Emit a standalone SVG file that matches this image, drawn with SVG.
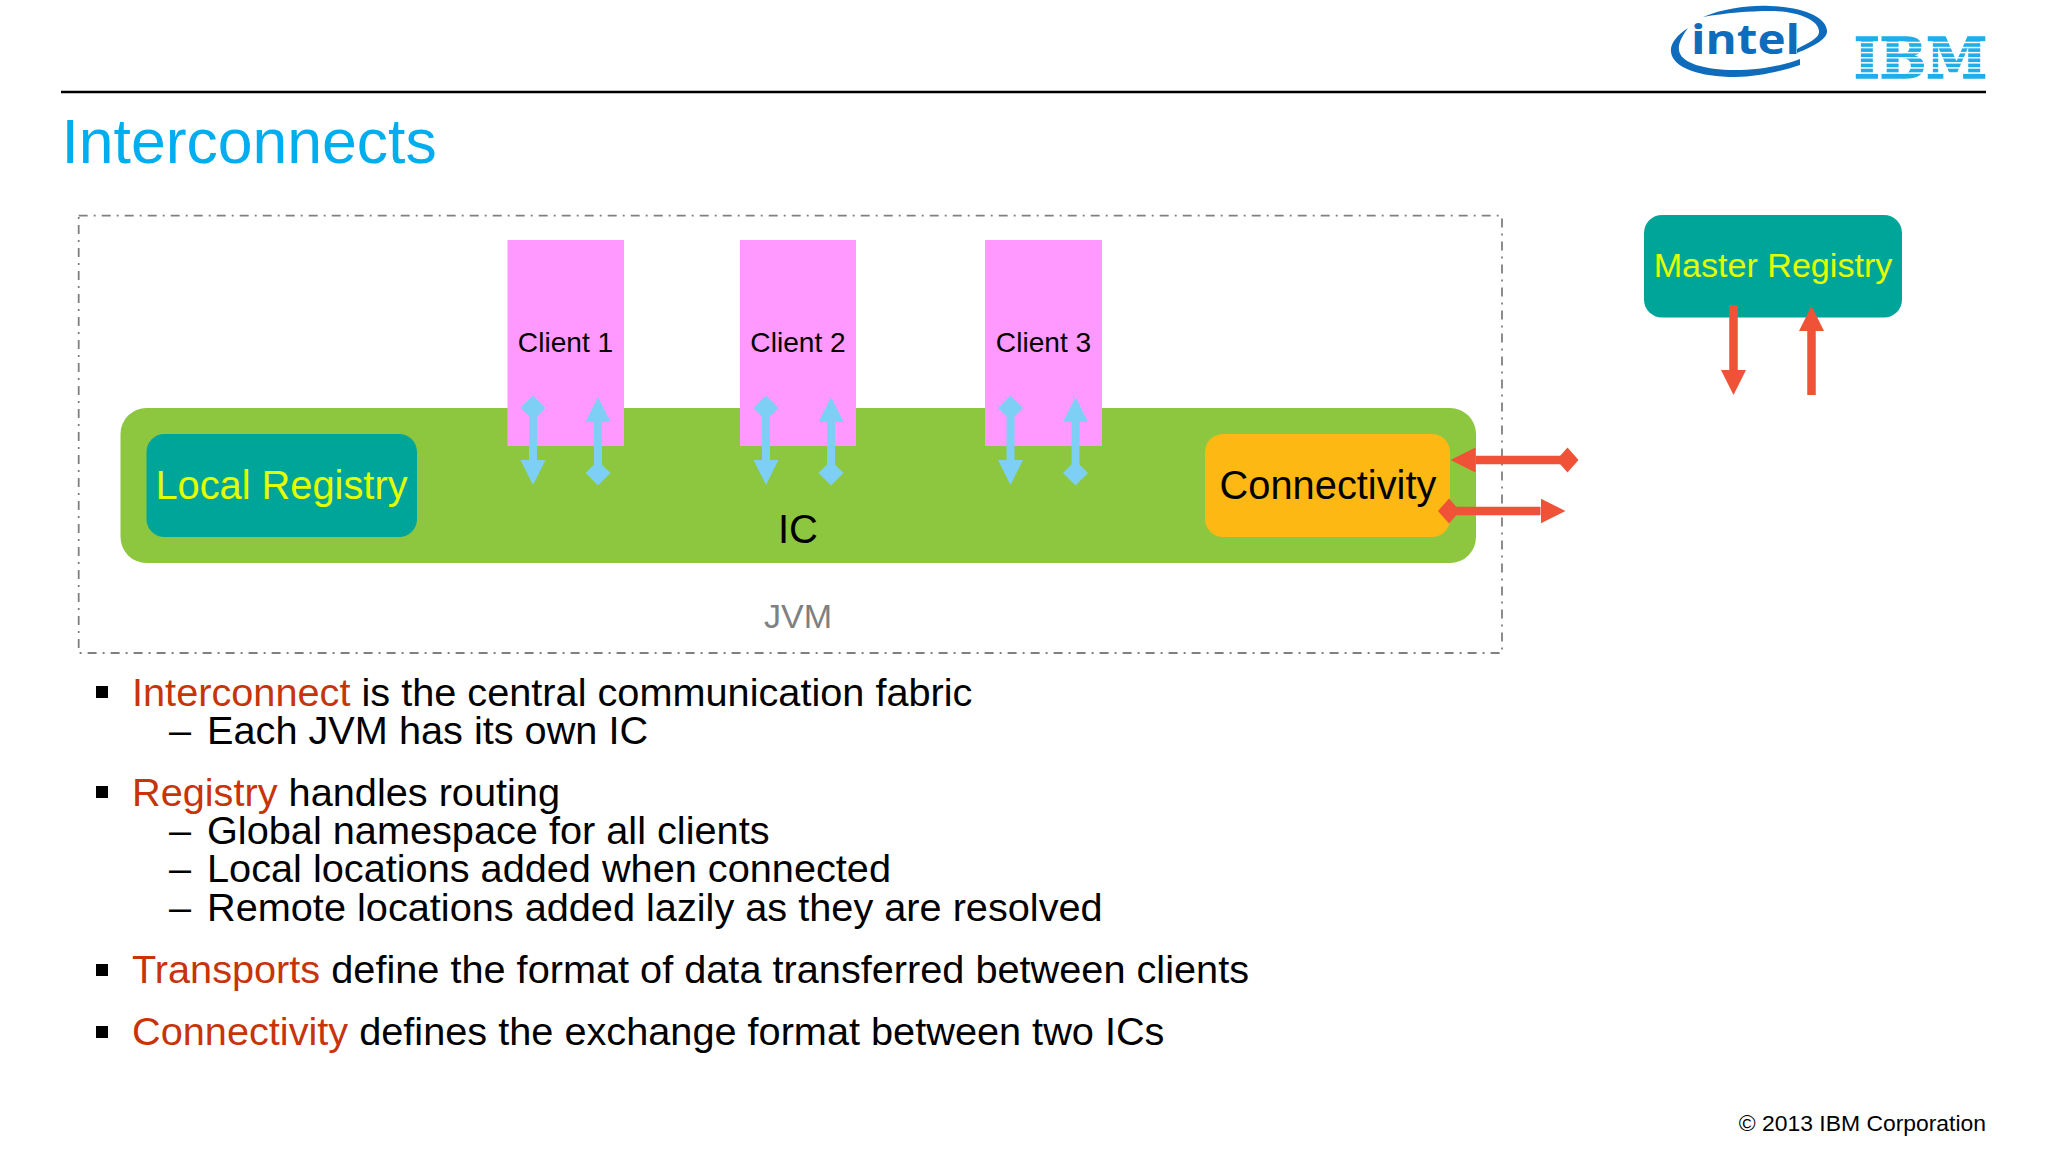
<svg xmlns="http://www.w3.org/2000/svg" width="2048" height="1152" viewBox="0 0 2048 1152">
<style>
text{font-family:"Liberation Sans",Arial,sans-serif;fill:#000}
.c{text-anchor:middle}
.client rect{fill:#FF99FF}
.client text{font-size:28.1px}
.teal{fill:#00A59A}
.body{font-size:39.7px}
.red{fill:#C8340A}
.bullet{fill:#000}
.blue line{stroke:#7DCFF5;stroke-width:8}
.rd line{stroke:#F05238;stroke-width:8.5}
</style>
<defs>
<marker id="ab" markerUnits="userSpaceOnUse" markerWidth="26" markerHeight="26" viewBox="0 -13 26 26" refX="0" refY="0" orient="auto"><path d="M0,-12.5L25,0L0,12.5Z" fill="#7DCFF5"/></marker>
<marker id="db" markerUnits="userSpaceOnUse" markerWidth="26" markerHeight="26" viewBox="-13 -13 26 26" refX="0" refY="0" orient="auto"><path d="M-12.5,0L0,-12.5L12.5,0L0,12.5Z" fill="#7DCFF5"/></marker>
<marker id="ar" markerUnits="userSpaceOnUse" markerWidth="26" markerHeight="26" viewBox="0 -13 26 26" refX="0" refY="0" orient="auto"><path d="M0,-12.5L25,0L0,12.5Z" fill="#F05238"/></marker>
<marker id="dr" markerUnits="userSpaceOnUse" markerWidth="26" markerHeight="26" viewBox="-13 -13 26 26" refX="0" refY="0" orient="auto"><path d="M-11,0L0,-12.5L11,0L0,12.5Z" fill="#F05238"/></marker>
</defs>
<rect width="2048" height="1152" fill="#fff"/>
<g id="header">
<line x1="61" y1="92" x2="1986" y2="92" stroke="#000" stroke-width="2.4"/>
<text x="61.5" y="163" font-size="62.5" style="fill:#00AEEF">Interconnects</text>
</g>
<g id="logo-intel">
<path fill="#0F6CBD" d="M1703,17C1725,8 1750,5 1770,6C1805,7 1828,18 1827,32C1826,40 1812,47 1797,53L1797,49C1808,43 1820,38 1819,31C1818,19 1796,11 1770,11C1750,11 1725,13 1703,17Z"/>
<path fill="#0F6CBD" d="M1688,28C1676,36 1670,44 1671,52C1673,68 1700,77 1735,77C1760,77 1785,70 1800,65L1800,59C1785,65 1760,70 1735,70C1705,70 1680,63 1679,50C1678,44 1682,36 1688,28Z"/>
<text x="1691" y="54" font-size="42" font-weight="700" textLength="109" lengthAdjust="spacingAndGlyphs" style="font-family:'Open Sans',sans-serif;fill:#0F6CBD">intel</text>
</g>
<g id="logo-ibm">
<text x="1854" y="78" font-size="56" font-weight="700" textLength="133" lengthAdjust="spacingAndGlyphs" style="font-family:'DejaVu Serif',serif;fill:#1FAEE8;stroke:#1FAEE8;stroke-width:1.6">IBM</text>
<g fill="#fff">
<rect x="1850" y="41.7" width="140" height="1.5"/><rect x="1850" y="46.8" width="140" height="1.5"/><rect x="1850" y="51.9" width="140" height="1.5"/><rect x="1850" y="57" width="140" height="1.5"/><rect x="1850" y="62.1" width="140" height="1.5"/><rect x="1850" y="67.2" width="140" height="1.5"/><rect x="1850" y="72.3" width="140" height="1.5"/>
</g>
</g>
<g id="jvm">
<rect x="78.7" y="215.7" width="1423.3" height="437.3" fill="none" stroke="#808080" stroke-width="1.8" stroke-dasharray="9 6 2 6"/>
<text class="c" x="798" y="628" font-size="34" style="fill:#808080">JVM</text>
</g>
<g id="ic">
<rect x="120.5" y="408" width="1355.5" height="155" rx="26" fill="#8DC63F"/>
<text class="c" x="798" y="543" font-size="40">IC</text>
</g>
<g id="local-registry">
<rect class="teal" x="146.5" y="434" width="270.5" height="103" rx="18"/>
<text class="c" x="281.5" y="498.5" font-size="39.8" style="fill:#E4FF00">Local Registry</text>
</g>
<g id="connectivity">
<rect x="1205" y="434" width="245" height="103" rx="18" fill="#FDB813"/>
<text class="c" x="1328" y="498.5" font-size="39.8">Connectivity</text>
</g>
<g id="client-1" class="client"><rect x="507.5" y="240" width="116.5" height="206"/><text class="c" x="565.5" y="352">Client 1</text></g>
<g id="client-2" class="client"><rect x="740" y="240" width="116" height="206"/><text class="c" x="798" y="352">Client 2</text></g>
<g id="client-3" class="client"><rect x="985" y="240" width="117" height="206"/><text class="c" x="1043.5" y="352">Client 3</text></g>
<g id="master-registry">
<rect class="teal" x="1644" y="215" width="258" height="102.5" rx="18"/>
<text class="c" x="1773" y="277" font-size="34.1" style="fill:#E4FF00">Master Registry</text>
</g>
<g id="connectors">
<g class="blue">
<line x1="533" y1="408" x2="533" y2="460" marker-start="url(#db)" marker-end="url(#ab)"/>
<line x1="598" y1="473" x2="598" y2="422" marker-start="url(#db)" marker-end="url(#ab)"/>
<line x1="766" y1="408" x2="766" y2="460" marker-start="url(#db)" marker-end="url(#ab)"/>
<line x1="831" y1="473" x2="831" y2="422" marker-start="url(#db)" marker-end="url(#ab)"/>
<line x1="1010.5" y1="408" x2="1010.5" y2="460" marker-start="url(#db)" marker-end="url(#ab)"/>
<line x1="1075.5" y1="473" x2="1075.5" y2="422" marker-start="url(#db)" marker-end="url(#ab)"/>
</g>
<g class="rd">
<line x1="1733.5" y1="305" x2="1733.5" y2="370" marker-end="url(#ar)"/>
<line x1="1811.5" y1="395" x2="1811.5" y2="331" marker-end="url(#ar)"/>
<line x1="1567.5" y1="460" x2="1475.5" y2="460" marker-start="url(#dr)" marker-end="url(#ar)"/>
<line x1="1449" y1="511" x2="1540.5" y2="511" marker-start="url(#dr)" marker-end="url(#ar)"/>
</g>
</g>
<g id="bullets">
<g class="bullet"><rect x="96" y="686" width="12" height="12"/><rect x="96" y="786" width="12" height="12"/><rect x="96" y="964" width="12" height="12"/><rect x="96" y="1026" width="12" height="12"/></g>
<text class="body" x="132" y="705.5"><tspan class="red">Interconnect</tspan> is the central communication fabric</text>
<text class="body" x="169" y="744">–</text><text class="body" x="207" y="744">Each JVM has its own IC</text>
<text class="body" x="132" y="806"><tspan class="red">Registry</tspan> handles routing</text>
<text class="body" x="169" y="844">–</text><text class="body" x="207" y="844">Global namespace for all clients</text>
<text class="body" x="169" y="882">–</text><text class="body" x="207" y="882">Local locations added when connected</text>
<text class="body" x="169" y="921">–</text><text class="body" x="207" y="921">Remote locations added lazily as they are resolved</text>
<text class="body" x="132" y="983"><tspan class="red">Transports</tspan> define the format of data transferred between clients</text>
<text class="body" x="132" y="1045"><tspan class="red">Connectivity</tspan> defines the exchange format between two ICs</text>
</g>
<text x="1986" y="1130.5" font-size="22.9" text-anchor="end">© 2013 IBM Corporation</text>
</svg>
